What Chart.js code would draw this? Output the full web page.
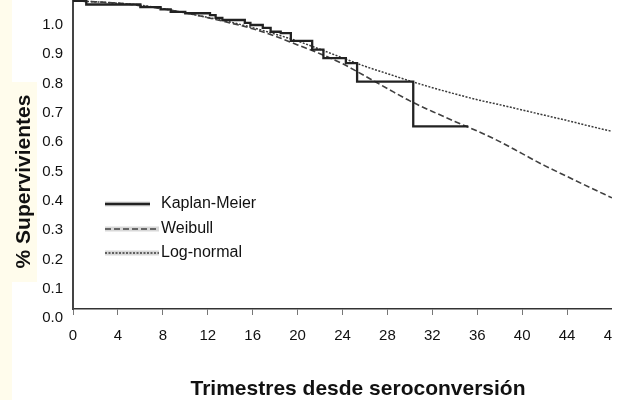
<!DOCTYPE html>
<html><head><meta charset="utf-8">
<script src="https://cdn.jsdelivr.net/npm/chart.js@4/dist/chart.umd.min.js"></script>
<style>
html,body{margin:0;padding:0;background:#fff;width:620px;height:400px;overflow:hidden}
#wrap{position:absolute;left:0;top:0;width:612px;height:400px;overflow:hidden}
</style></head><body>
<div id="wrap"><canvas id="c" width="612" height="400"></canvas></div>
<script>
// ---- data ----
const kmTimes = [0, 1.18, 6.0, 7.8, 8.7, 10.0, 12.2, 12.7, 13.3, 15.3, 15.8, 16.9, 17.6, 18.5, 19.4, 21.3, 22.3, 24.3, 25.3, 30.3, 35.2];
const kmSurvival = [1.082, 1.070, 1.061, 1.053, 1.045, 1.040, 1.034, 1.024, 1.017, 1.007, 1.000, 0.990, 0.977, 0.972, 0.946, 0.916, 0.887, 0.870, 0.807, 0.654, 0.654];
const fitTimes = [0, 2, 4, 6, 8, 10, 12, 14, 16, 18, 20, 22, 24, 26, 28, 30, 32, 34, 36, 38, 40, 42, 44, 46, 48];
const weibullSurvival = [1.082, 1.079, 1.075, 1.066, 1.055, 1.042, 1.025, 1.007, 0.987, 0.962, 0.932, 0.902, 0.868, 0.826, 0.783, 0.741, 0.705, 0.671, 0.638, 0.602, 0.561, 0.520, 0.483, 0.446, 0.410];
const lognormalSurvival = [1.082, 1.079, 1.074, 1.068, 1.056, 1.041, 1.026, 1.010, 0.991, 0.969, 0.945, 0.917, 0.888, 0.859, 0.834, 0.809, 0.786, 0.765, 0.745, 0.728, 0.710, 0.692, 0.674, 0.655, 0.637];
const seriesNames = ['Kaplan-Meier', 'Weibull', 'Log-normal'];
const xTickValues = [0, 4, 8, 12, 16, 20, 24, 28, 32, 36, 40, 44, 48];
const yTickValues = [0.0, 0.1, 0.2, 0.3, 0.4, 0.5, 0.6, 0.7, 0.8, 0.9, 1.0];
const xTitle = 'Trimestres desde seroconversión';
const yTitle = '% Supervivientes';

const FONT = '"Liberation Sans", Arial, Helvetica, sans-serif';
const toPoints = (xs, ys) => xs.map((x, i) => ({x, y: ys[i]}));

const bgPlugin = {
  id: 'bg',
  beforeDraw(chart) {
    const c = chart.ctx;
    c.save();
    c.fillStyle = '#fffcec';
    c.fillRect(0, 0, 12, 400);
    c.fillRect(12, 82, 25, 200);
    c.restore();
  }
};
const legendPlugin = {
  id: 'insideLegend',
  afterDraw(chart) {
    const c = chart.ctx;
    const rows = [204, 229, 253];
    chart.data.datasets.forEach((ds, i) => {
      const y = rows[i];
      c.save();
      c.strokeStyle = '#d8d8d8'; c.lineWidth = 5;
      c.beginPath(); c.moveTo(105, y); c.lineTo(i === 0 ? 150 : 159, y); c.stroke();
      c.strokeStyle = ds.borderColor; c.lineWidth = ds.borderWidth;
      c.setLineDash(ds.borderDash || []);
      c.beginPath(); c.moveTo(105, y); c.lineTo(i === 0 ? 150 : 159, y); c.stroke();
      c.restore();
      c.save();
      c.fillStyle = '#111'; c.font = '16px ' + FONT; c.textBaseline = 'middle';
      c.fillText(ds.label, 161, y);
      c.restore();
    });
  }
};
const titlePlugin = {
  id: 'axisTitles',
  afterDraw(chart) {
    const c = chart.ctx;
    c.save();
    c.fillStyle = '#111';
    c.font = 'bold 21px ' + FONT;
    c.textAlign = 'center'; c.textBaseline = 'middle';
    c.fillText(xTitle, 358, 389);
    c.translate(24, 181.5); c.rotate(-Math.PI / 2);
    c.fillText(yTitle, 0, 0);
    c.restore();
  }
};

new Chart(document.getElementById('c'), {
  type: 'line',
  data: {
    datasets: [
      { label: seriesNames[0], data: toPoints(kmTimes, kmSurvival), stepped: true,
        borderColor: '#222222', borderWidth: 2.3, pointRadius: 0, fill: false },
      { label: seriesNames[1], data: toPoints(fitTimes, weibullSurvival), borderDash: [6, 3],
        borderColor: '#404040', borderWidth: 1.6, pointRadius: 0, cubicInterpolationMode: 'monotone', fill: false },
      { label: seriesNames[2], data: toPoints(fitTimes, lognormalSurvival), borderDash: [2, 1.5],
        borderColor: '#3a3a3a', borderWidth: 1.5, pointRadius: 0, cubicInterpolationMode: 'monotone', fill: false }
    ]
  },
  options: {
    responsive: false, animation: false, devicePixelRatio: 1,
    layout: { padding: 0 },
    plugins: { legend: { display: false }, tooltip: { enabled: false } },
    scales: {
      x: {
        type: 'linear', min: 0, max: 48, bounds: 'data',
        afterBuildTicks: s => { s.ticks = xTickValues.map(v => ({ value: v })); },
        afterFit: s => { s.height = 91; s.paddingLeft = 0; s.paddingRight = 0; },
        ticks: { color: '#111', font: { size: 15, family: FONT }, padding: 12, autoSkip: false, maxRotation: 0,
                 callback: v => String(v) },
        grid: { display: true, drawOnChartArea: false, drawTicks: true, tickLength: 6, color: '#777', lineWidth: 1 },
        border: { display: true, color: '#333', width: 1.6 }
      },
      y: {
        type: 'linear', min: 0.0307, max: 1.0853, bounds: 'data',
        afterBuildTicks: s => { s.ticks = yTickValues.map(v => ({ value: v })); },
        afterFit: s => { s.width = 73; s.paddingTop = 0; s.paddingBottom = 0; },
        ticks: { color: '#111', font: { size: 15, family: FONT }, padding: 10, autoSkip: false,
                 callback: v => Number(v).toFixed(1) },
        grid: { display: false, drawTicks: false },
        border: { display: true, color: '#444', width: 2 }
      }
    }
  },
  plugins: [bgPlugin, legendPlugin, titlePlugin]
});
</script>
</body></html>
